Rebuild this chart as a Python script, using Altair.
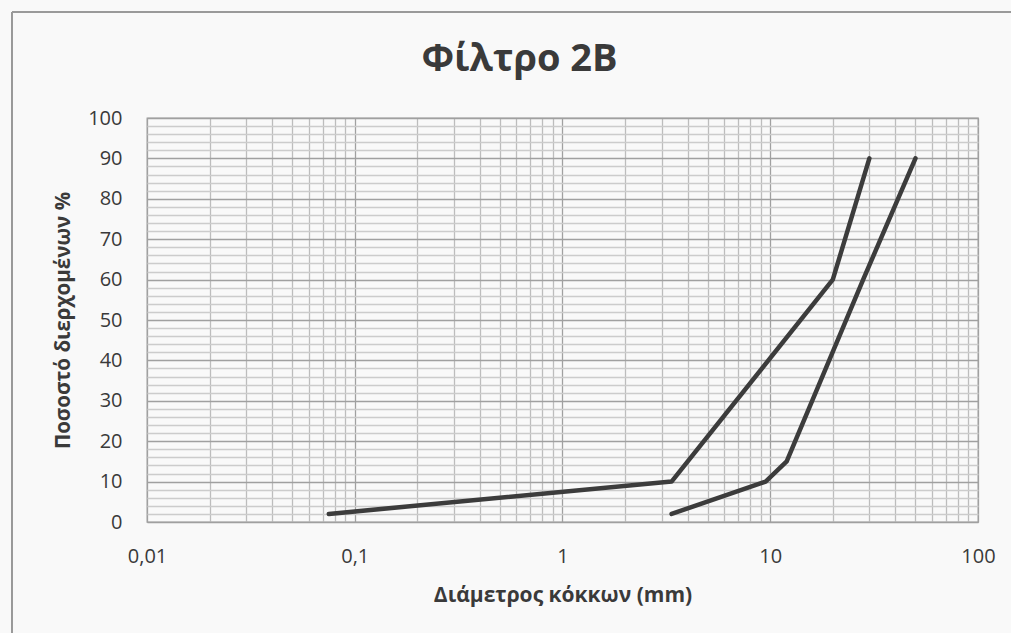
import altair as alt
import pandas as pd

# Series A (left curve)
a_x = [0.075, 3.35, 20, 30]
a_y = [2, 10, 60, 90]
# Series B (right curve)
b_x = [3.35, 9.5, 12, 28, 50]
b_y = [2, 10, 15, 60, 90]

x_ticks = [m * 10 ** e for e in range(-2, 2) for m in range(1, 10)] + [100]
y_ticks = list(range(0, 101, 2))

df = pd.DataFrame({
    "d": a_x + b_x,
    "p": a_y + b_y,
    "s": ["A"] * len(a_x) + ["B"] * len(b_x),
})

FONT = "Open Sans"
TXT = "#3a3a3a"
is_decade = "abs(log(datum.value)/LN10 - round(log(datum.value)/LN10)) < 1e-6"

x_axis = alt.Axis(
    values=x_ticks,
    labelExpr=f"({is_decade}) ? replace(format(datum.value, '~g'), '.', ',') : ''",
    gridColor={"condition": {"test": is_decade, "value": "#a0a0a0"}, "value": "#bdbdbd"},
    gridWidth=1.3,
    domain=False,
    ticks=False,
    labelFont=FONT,
    labelFontSize=20,
    labelColor=TXT,
    labelPadding=24,
    labelFlush=False,
    labelOverlap=False,
    title="Διάμετρος κόκκων (mm)",
    titleFont=FONT,
    titleFontSize=21,
    titleFontWeight="bold",
    titleColor=TXT,
    titlePadding=18,
)

y_axis = alt.Axis(
    values=y_ticks,
    labelExpr="datum.value % 10 == 0 ? datum.value : ''",
    gridColor={"condition": {"test": "datum.value % 10 == 0", "value": "#a0a0a0"}, "value": "#cccccc"},
    gridWidth=1.3,
    domain=False,
    ticks=False,
    labelFont=FONT,
    labelFontSize=20,
    labelColor=TXT,
    labelPadding=25,
    labelOverlap=False,
    title="Ποσοστό διερχομένων %",
    titleFont=FONT,
    titleFontSize=20.5,
    titleFontWeight="bold",
    titleColor=TXT,
    titlePadding=14,
)

lines = alt.Chart(df).mark_line(
    color="#3c3c3c", strokeWidth=4.5, strokeCap="round", strokeJoin="round"
).encode(
    x=alt.X("d:Q", scale=alt.Scale(type="log", domain=[0.01, 100], nice=False), axis=x_axis),
    y=alt.Y("p:Q", scale=alt.Scale(domain=[0, 100], nice=False), axis=y_axis),
    detail="s:N",
)

# decorative outer chart border (top and left edges)
border_top = alt.Chart(df).mark_rule(color="#9a9a9a", strokeWidth=1.2).encode(
    x=alt.value(-135), x2=alt.value(880), y=alt.value(-106)
)
border_left = alt.Chart(df).mark_rule(color="#9a9a9a", strokeWidth=1.2).encode(
    x=alt.value(-135), y=alt.value(-106), y2=alt.value(520)
)

chart = alt.layer(lines, border_top, border_left).properties(
    width=831,
    height=404,
    title=alt.TitleParams(
        "Φίλτρο 2B",
        font=FONT,
        fontSize=38,
        fontWeight="bold",
        color=TXT,
        anchor="middle",
        baseline="alphabetic",
        dx=-43,
        dy=98,
        offset=0,
    ),
    autosize=alt.AutoSizeParams(type="none"),
    padding={"left": 147, "top": 118, "right": 33, "bottom": 111},
    background="#f9f9f9",
).configure_view(
    stroke="#a0a0a0", strokeWidth=1.3, fill="#f9f9f9"
)

chart.save("out.html", embed_options={"renderer": "svg", "actions": False})
